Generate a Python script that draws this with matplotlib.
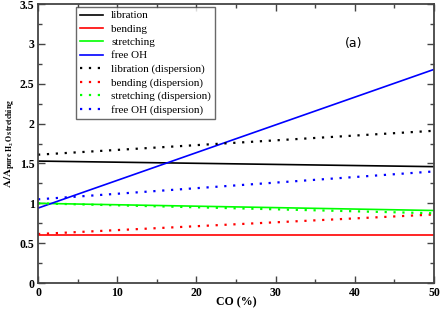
import matplotlib
matplotlib.use("Agg")
import matplotlib.pyplot as plt
from matplotlib.ticker import MultipleLocator

co = [0, 50]
libration = [1.53, 1.46]
bending = [0.605, 0.605]
stretching = [1.0, 0.91]
free_oh = [0.94, 2.68]
libration_disp = [1.61, 1.91]
bending_disp = [0.615, 0.86]
stretching_disp = [1.0, 0.875]
free_oh_disp = [1.05, 1.40]

plt.rcParams['font.family'] = ['Liberation Serif', 'DejaVu Serif']
plt.rcParams['mathtext.fontset'] = 'stix'

fig = plt.figure(figsize=(4.42, 3.09), dpi=100)
ax = fig.add_axes([0.086, 0.084, 0.896, 0.903])

solid = [(libration, 'k', 'libration'), (bending, 'red', 'bending'),
         (stretching, '#00ff00', 'stretching'), (free_oh, 'blue', 'free OH')]
dotted = [(libration_disp, 'k', 'libration (dispersion)'),
          (bending_disp, 'red', 'bending (dispersion)'),
          (stretching_disp, '#00ff00', 'stretching (dispersion)'),
          (free_oh_disp, 'blue', 'free OH (dispersion)')]

for y, c, lab in solid:
    ax.plot(co, y, color=c, lw=1.2, label=lab)
for y, c, lab in dotted:
    ax.plot(co, y, color=c, lw=1.6, ls=(0, (1, 3.0)), label=lab)

ax.set_xlim(0, 50)
ax.set_ylim(0, 3.5)
ax.xaxis.set_minor_locator(MultipleLocator(5))
ax.yaxis.set_minor_locator(MultipleLocator(0.25))
ax.tick_params(which='both', direction='in', top=True, right=True,
               color='#444444', pad=2.5)
ax.tick_params(which='major', length=5, width=1)
ax.tick_params(which='minor', length=3, width=1)
ax.set_yticks([0, 0.5, 1, 1.5, 2, 2.5, 3, 3.5])
ax.set_yticklabels(['0', '0.5', '1', '1.5', '2', '2.5', '3', '3.5'],
                   fontweight='bold', fontsize=8.5)
ax.set_xticks([0, 10, 20, 30, 40, 50])
ax.set_xticklabels(['0', '10', '20', '30', '40', '50'],
                   fontweight='bold', fontsize=8.5)
for s in ax.spines.values():
    s.set_color('#444444')
    s.set_linewidth(1.3)

ax.set_xlabel('CO (%)', fontweight='bold', fontsize=8.5, va='center')
ax.xaxis.set_label_coords(0.5, -0.068)
ax.set_ylabel(r'$\mathbf{A/A_{pure\ H_2O\ stretching}}$', fontsize=8,
              va='center')
ax.yaxis.set_label_coords(-0.07, 0.5)

ax.text(39.8, 3.01, '(a)', family='DejaVu Sans', fontsize=9, ha='center',
        va='center')

leg = ax.legend(loc='upper left', bbox_to_anchor=(0.095, 0.99), fontsize=8,
                frameon=True, fancybox=False, edgecolor='#444444',
                handlelength=2.15, labelspacing=0.32, borderpad=0.35,
                handletextpad=0.7, borderaxespad=0)
leg.get_frame().set_linewidth(1)

fig.savefig('out.png', dpi=100)
